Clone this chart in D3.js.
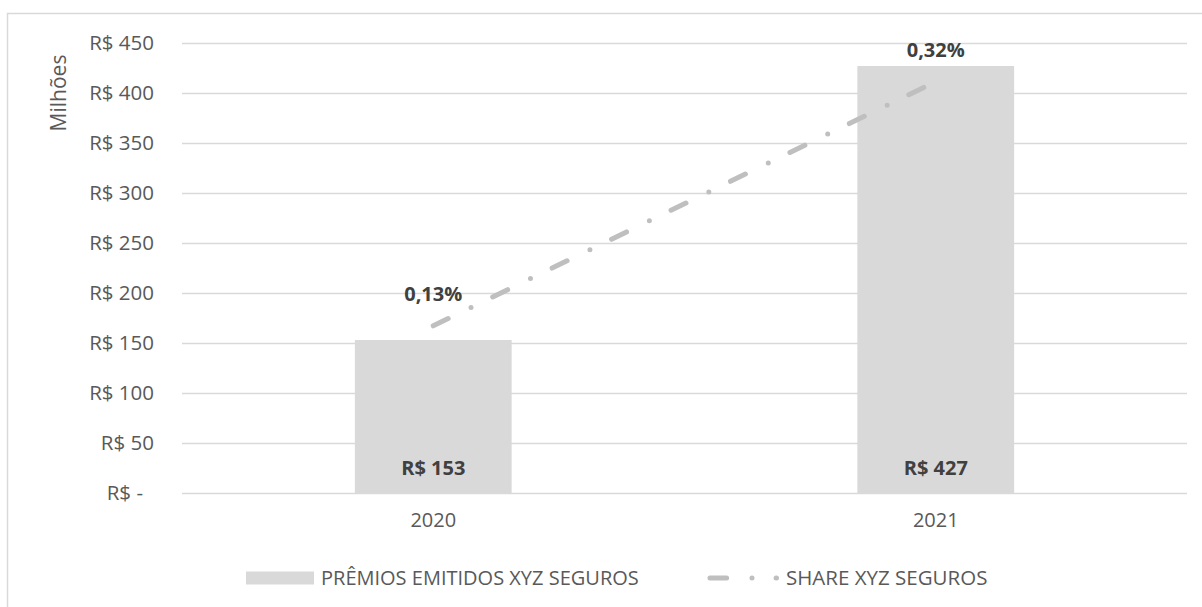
<!DOCTYPE html>
<html lang="pt-BR">
<head>
<meta charset="utf-8">
<title>Prêmios emitidos e share – XYZ Seguros</title>
<script src="https://cdn.jsdelivr.net/npm/d3@7/dist/d3.min.js"></script>
<style>
  html, body { margin: 0; padding: 0; background: #ffffff; }
  svg { display: block; font-family: "Open Sans", "Noto Sans", sans-serif; }
</style>
</head>
<body>
<svg id="chart" width="1202" height="607"></svg>
<script>
// ---- data ----
const categories = ["2020", "2021"];
const premios = [153, 427];            // R$ milhões
const share = [0.13, 0.32];            // % do mercado
const yTicks = [0, 50, 100, 150, 200, 250, 300, 350, 400, 450];
const seriesNames = ["PRÊMIOS EMITIDOS XYZ SEGUROS", "SHARE XYZ SEGUROS"];
const axisTitle = "Milhões";

// ---- layout ----
const W = 1202, H = 607;
const plot = { left: 182, right: 1187, top: 43, bottom: 493 };
const colors = {
  bar: "#D9D9D9", line: "#BFBFBF", grid: "#D9D9D9",
  tick: "#595959", label: "#404040", border: "#D9D9D9"
};

const svg = d3.select("#chart");

// chart frame
svg.append("rect")
  .attr("x", 7.5).attr("y", 13.5)
  .attr("width", W + 10).attr("height", H + 10)
  .attr("fill", "#fff")
  .attr("stroke", colors.border).attr("stroke-width", 1.5);

// ---- scales ----
const x = d3.scaleBand()
  .domain(categories)
  .range([plot.left, plot.right])
  .paddingInner(0.688)
  .paddingOuter(0.344);

const y = d3.scaleLinear()
  .domain([0, 450])
  .range([plot.bottom, plot.top]);

// secondary (hidden) axis for the share line
const y2 = d3.scaleLinear()
  .domain([0, 0.35])
  .range([plot.bottom, plot.top]);

const cx = d => x(d) + x.bandwidth() / 2;

// ---- gridlines ----
const grid = svg.append("g")
  .attr("transform", `translate(${plot.left},0)`)
  .call(d3.axisLeft(y).tickValues(yTicks).tickSize(-(plot.right - plot.left)).tickFormat(""));
grid.select(".domain").remove();
grid.selectAll("line").attr("stroke", colors.grid).attr("stroke-width", 1.5);

// ---- y axis labels ----
const fmtReal = v => v === 0 ? "R$ -" : "R$ " + d3.format(",")(v).replace(/,/g, ".");
const yAxis = svg.append("g")
  .attr("transform", `translate(${plot.left},0)`)
  .call(d3.axisLeft(y).tickValues(yTicks).tickSize(0).tickPadding(28).tickFormat(fmtReal));
yAxis.select(".domain").remove();
yAxis.selectAll("text")
  .attr("fill", colors.tick)
  .style("font-size", "20.5px")
  .style("font-family", "'Open Sans', sans-serif")
  .attr("dx", d => d === 0 ? -11 : 0);

// axis title
svg.append("text")
  .attr("transform", `translate(66,93) rotate(-90)`)
  .attr("text-anchor", "middle")
  .attr("fill", colors.tick)
  .style("font-size", "21px")
  .text(axisTitle);

// ---- x axis labels ----
const xAxis = svg.append("g")
  .attr("transform", `translate(0,${plot.bottom})`)
  .call(d3.axisBottom(x).tickSize(0).tickPadding(20));
xAxis.select(".domain").remove();
xAxis.selectAll("text")
  .attr("fill", colors.tick)
  .style("font-size", "20px")
  .style("font-family", "'Open Sans', sans-serif");

// ---- bars ----
svg.append("g").selectAll("rect")
  .data(categories)
  .join("rect")
  .attr("x", d => x(d))
  .attr("width", x.bandwidth())
  .attr("y", (d, i) => y(premios[i]))
  .attr("height", (d, i) => y(0) - y(premios[i]))
  .attr("fill", colors.bar);

// bar value labels (inside base)
svg.append("g").selectAll("text")
  .data(categories)
  .join("text")
  .attr("x", d => cx(d))
  .attr("y", y(0) - 18)
  .attr("text-anchor", "middle")
  .attr("fill", colors.label)
  .style("font-size", "20px")
  .style("font-weight", "700")
  .text((d, i) => "R$ " + premios[i]);

// ---- share line ----
const dash = "16.6 25.4 0 24.1";
const line = d3.line()
  .x(d => cx(d.c))
  .y(d => y2(d.v));

svg.append("path")
  .datum(categories.map((c, i) => ({ c, v: share[i] })))
  .attr("d", line)
  .attr("fill", "none")
  .attr("stroke", colors.line)
  .attr("stroke-width", 5)
  .attr("stroke-linecap", "round")
  .attr("stroke-dasharray", dash);

// share labels
const fmtPct = v => d3.format(".2f")(v).replace(".", ",") + "%";
svg.append("g").selectAll("text")
  .data(categories)
  .join("text")
  .attr("x", d => cx(d))
  .attr("y", (d, i) => y2(share[i]) - 25)
  .attr("text-anchor", "middle")
  .attr("fill", colors.label)
  .style("font-size", "20px")
  .style("font-weight", "700")
  .text((d, i) => fmtPct(share[i]));

// ---- legend ----
const legendY = 578;
const lg = svg.append("g");

lg.append("rect")
  .attr("x", 246).attr("y", legendY - 6.5)
  .attr("width", 68).attr("height", 13)
  .attr("fill", colors.bar);
lg.append("text")
  .attr("x", 321).attr("y", legendY)
  .attr("dy", "0.35em")
  .attr("fill", colors.tick)
  .style("font-size", "20px")
  .text(seriesNames[0]);

lg.append("path")
  .attr("d", d3.line()([[710, legendY], [776.5, legendY]]))
  .attr("fill", "none")
  .attr("stroke", colors.line)
  .attr("stroke-width", 5)
  .attr("stroke-linecap", "round")
  .attr("stroke-dasharray", dash);
lg.append("text")
  .attr("x", 786).attr("y", legendY)
  .attr("dy", "0.35em")
  .attr("fill", colors.tick)
  .style("font-size", "20.5px")
  .text(seriesNames[1]);
</script>
</body>
</html>
